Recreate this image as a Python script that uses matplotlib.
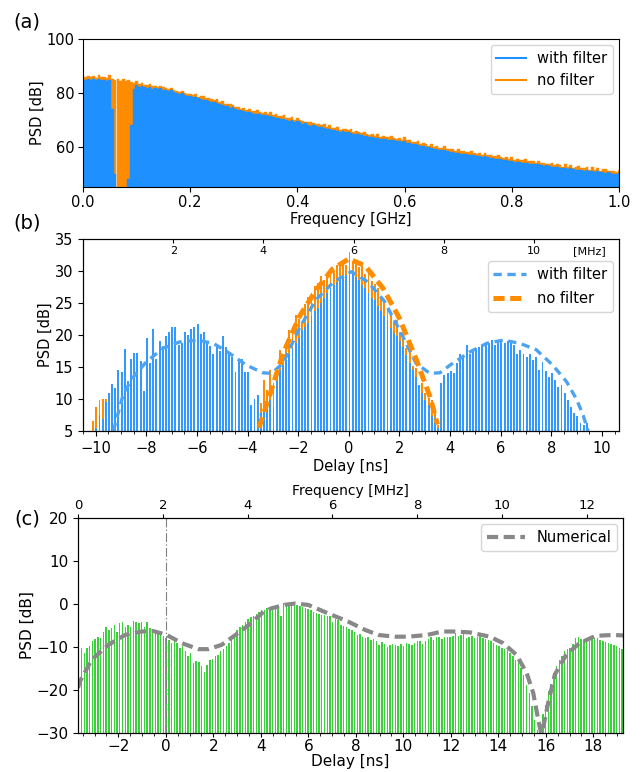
import numpy as np
import matplotlib
matplotlib.use('Agg')
import matplotlib.pyplot as plt
from matplotlib.lines import Line2D
from matplotlib.ticker import MultipleLocator

plt.rcParams['font.family'] = ['DejaVu Sans']
plt.rcParams['lines.scale_dashes'] = False

# ---------------- Panel (a): PSD vs frequency ----------------
freq_start_ghz = 0.0
freq_step_ghz = 0.005
psd_a_with = [
    84.6, 84.9, 85.2, 84.7, 85.0, 84.8, 85.1, 84.6, 84.9, 84.5,
    84.7, 74.0, 50.0, 40.0, 40.0, 40.0, 40.0, 48.0, 68.0, 81.5,
    82.8, 82.3, 82.6, 82.0, 81.9, 82.2, 81.6, 81.8, 81.4, 81.7,
    81.2, 81.0, 80.7, 80.9, 80.2, 80.0, 79.6, 79.8, 79.1, 78.9,
    78.8, 78.4, 78.5, 77.9, 77.8, 77.3, 77.5, 77.0, 76.6, 76.7,
    76.3, 75.8, 75.6, 75.2, 75.0, 74.5, 74.6, 74.0, 73.7, 73.5,
    73.2, 73.0, 72.8, 72.6, 72.3, 72.2, 72.0, 71.7, 71.9, 71.5,
    71.5, 71.0, 70.8, 70.6, 70.2, 70.3, 70.0, 69.7, 69.8, 69.3,
    69.4, 69.0, 68.5, 68.6, 68.2, 67.8, 67.9, 67.5, 67.2, 67.3,
    67.0, 66.6, 66.7, 66.2, 66.0, 65.9, 65.6, 65.7, 65.3, 65.4,
    65.2, 64.8, 64.6, 64.7, 64.2, 64.0, 63.9, 63.5, 63.6, 63.2,
    63.3, 62.9, 62.7, 62.8, 62.5, 62.3, 62.4, 62.0, 62.2, 61.8,
    62.1, 61.5, 61.2, 61.0, 60.8, 60.5, 60.3, 60.4, 59.9, 59.7,
    59.6, 59.2, 59.0, 58.9, 58.6, 58.7, 58.3, 58.1, 58.0, 57.7,
    57.8, 57.4, 57.2, 57.3, 57.0, 56.8, 56.9, 56.5, 56.6, 56.3,
    56.5, 56.0, 55.8, 55.9, 55.5, 55.3, 55.4, 55.0, 54.9, 54.7,
    54.7, 54.4, 54.2, 54.3, 54.0, 53.8, 53.9, 53.6, 53.7, 53.4,
    53.5, 53.1, 52.9, 53.0, 52.7, 52.6, 52.4, 52.5, 52.2, 52.0,
    52.2, 51.8, 51.9, 51.6, 51.5, 51.3, 51.4, 51.1, 51.2, 50.9,
    51.0, 50.7, 50.8, 50.5, 50.6, 50.3, 50.4, 50.1, 50.0, 49.9,
    50.1,
]
psd_a_without = [
    85.5, 86.0, 86.4, 85.8, 86.1, 85.6, 86.5, 85.7, 85.9, 85.4,
    86.8, 85.2, 84.6, 85.0, 84.4, 85.2, 84.5, 84.8, 84.2, 83.6,
    84.3, 83.2, 83.6, 82.9, 82.8, 83.3, 82.4, 82.6, 82.3, 82.5,
    82.0, 81.8, 81.5, 81.9, 81.0, 80.8, 80.4, 80.7, 80.1, 79.6,
    79.6, 79.2, 79.7, 78.5, 78.8, 78.8, 78.2, 77.9, 77.7, 77.3,
    77.6, 76.6, 76.8, 75.8, 76.0, 76.0, 75.3, 74.9, 74.8, 74.1,
    74.5, 73.8, 74.0, 73.2, 73.3, 73.7, 72.7, 72.6, 73.0, 72.1,
    72.8, 71.8, 72.0, 71.2, 71.2, 71.8, 70.7, 70.6, 70.9, 69.9,
    70.7, 69.8, 69.7, 69.2, 69.2, 69.3, 68.6, 68.4, 68.3, 67.9,
    68.3, 67.4, 67.9, 66.8, 67.0, 67.4, 66.3, 66.6, 66.4, 66.0,
    66.5, 65.6, 65.8, 65.3, 65.2, 65.5, 64.6, 64.4, 64.7, 63.8,
    64.6, 63.7, 63.9, 63.4, 63.5, 63.8, 63.1, 62.9, 63.3, 62.4,
    63.4, 62.3, 62.4, 61.6, 61.8, 62.0, 61.0, 61.3, 61.0, 60.3,
    60.9, 60.0, 60.2, 59.5, 59.6, 60.2, 59.0, 59.0, 59.1, 58.3,
    59.1, 58.2, 58.4, 57.9, 58.0, 58.3, 57.6, 57.4, 57.7, 56.9,
    57.8, 56.8, 57.0, 56.5, 56.5, 56.8, 56.1, 55.9, 56.0, 55.3,
    56.0, 55.2, 55.4, 54.9, 55.0, 55.3, 54.6, 54.5, 54.8, 54.0,
    54.8, 53.9, 54.1, 53.6, 53.7, 54.1, 53.1, 53.4, 53.3, 52.6,
    53.5, 52.6, 53.1, 52.2, 52.5, 52.8, 52.1, 52.0, 52.3, 51.5,
    52.3, 51.5, 52.0, 51.1, 51.6, 51.8, 51.1, 51.0, 51.1, 50.5,
    51.4,
]

# ---------------- Panel (b): PSD vs delay ----------------
delay_b_start = -10.1
delay_b_step = 0.125
psd_b_with = [
    3.0, 5.5, 7.5, 6.8, 9.5, 11.0, 12.3, 11.7, 14.6, 14.2,
    17.8, 12.8, 16.2, 17.2, 17.2, 15.9, 11.3, 19.6, 15.6, 20.9,
    16.2, 19.1, 18.3, 19.9, 20.4, 21.2, 21.2, 18.5, 18.8, 20.4,
    20.0, 20.9, 21.2, 21.7, 20.1, 20.4, 19.1, 18.3, 17.0, 18.5,
    17.5, 19.9, 18.1, 17.0, 16.5, 14.2, 16.2, 16.2, 14.2, 14.2,
    9.0, 10.0, 10.6, 7.8, 8.8, 9.1, 9.9, 8.8, 13.0, 14.5,
    15.3, 16.1, 17.1, 17.9, 18.7, 19.5, 20.8, 21.3, 21.8, 22.9,
    23.7, 24.2, 25.0, 25.8, 26.5, 27.3, 27.8, 28.3, 28.6, 29.0,
    29.3, 29.8, 29.5, 29.0, 28.6, 27.8, 27.3, 26.5, 25.8, 25.5,
    24.5, 23.7, 22.9, 22.4, 21.1, 20.3, 19.8, 19.0, 18.2, 16.9,
    15.6, 14.5, 13.5, 12.2, 10.9, 9.9, 9.1, 7.3, 7.0, 5.5,
    12.5, 13.7, 14.1, 14.3, 14.0, 15.6, 17.1, 16.4, 18.4, 17.1,
    17.4, 17.9, 18.2, 18.4, 18.7, 18.7, 19.2, 18.4, 19.2, 19.2,
    18.7, 19.0, 18.7, 18.4, 17.1, 17.6, 17.1, 16.6, 17.1, 16.1,
    16.6, 14.5, 15.8, 14.3, 13.5, 14.0, 13.0, 11.9, 12.2, 10.9,
    9.9, 8.8, 7.8, 7.3, 6.2, 6.0, 6.2,
]
nan = np.nan
psd_b_without = [
    6.5, 8.8, 9.8, 10.0, 10.0, nan, nan, nan, nan, nan,
    nan, nan, nan, nan, nan, nan, nan, nan, nan, nan,
    nan, nan, nan, nan, nan, nan, nan, nan, nan, nan,
    nan, nan, nan, nan, nan, nan, nan, nan, nan, nan,
    nan, nan, nan, nan, nan, nan, nan, nan, nan, nan,
    nan, nan, 6.0, 9.4, 13.0, 11.4, 14.5, 12.5, 14.8, 17.7,
    16.8, 18.7, 20.8, 20.5, 23.1, 22.5, 22.0, 24.9, 26.0, 26.5,
    27.6, 28.1, 29.2, 28.6, 29.5, 30.3, 30.0, 31.0, 30.6, 31.3,
    31.0, 33.0, 31.5, 31.2, 30.6, 30.8, 29.6, 29.8, 28.5, 28.0,
    27.3, 26.0, 25.6, 24.0, 23.5, 22.0, 22.3, 20.5, 19.8, 18.0,
    17.6, 15.2, 14.8, 12.0, 12.5, 11.0, 10.2, 9.8, 8.0, 6.0,
    nan, nan, nan, nan, nan, nan, nan, nan, nan, nan,
    nan, nan, nan, nan, nan, nan, nan, nan, nan, nan,
    nan, nan, nan, nan, nan, nan, nan, nan, nan, nan,
    nan, nan, nan, nan, nan, nan, nan, nan, nan, nan,
    nan, nan, nan, nan, nan, nan, nan,
]
fit_b_with_delay = [-9.3, -8.9, -8.5, -8.0, -7.35, -6.7, -6.0, -5.35, -4.7, -4.05,
                    -3.4, -3.05, -2.6, -1.95, -1.3, -0.6, 0.1, 0.75, 1.4, 2.0,
                    2.65, 3.2, 3.6, 4.0, 4.8, 5.45, 6.1, 6.75, 7.4, 8.05,
                    8.6, 9.0, 9.25, 9.45]
fit_b_with_psd = [5.0, 10.9, 13.5, 15.8, 17.9, 18.9, 19.2, 18.7, 17.1, 15.3,
                  14.1, 14.0, 15.6, 21.1, 25.5, 28.3, 29.9, 28.3, 25.3, 20.8,
                  15.6, 14.0, 14.1, 15.3, 17.4, 18.7, 19.2, 18.7, 17.7, 15.3,
                  12.7, 9.9, 7.5, 5.0]
fit_b_without_delay = [-3.55, -3.1, -2.6, -1.95, -1.3, -0.65, 0.0, 0.65, 1.35, 2.0,
                       2.65, 3.2, 3.5]
fit_b_without_psd = [5.5, 10.9, 17.1, 22.9, 27.0, 30.3, 31.9, 30.8, 27.3, 22.6,
                     16.3, 10.4, 6.0]
mhz_ticks_b = [2, 4, 6, 8, 10]

# ---------------- Panel (c): PSD vs delay ----------------
delay_c_first = -3.55
delay_c_last = 19.21
psd_c = [
    -10.3, -11.5, -10.3, -9.7, -8.7, -8.2, -7.7, -8.0, -6.4, -5.3,
    -6.0, -5.6, -4.9, -6.4, -4.5, -4.3, -5.3, -4.9, -5.3, -3.9,
    -4.3, -4.5, -4.3, -5.3, -4.2, -5.6, -6.2, -6.4, -6.3, -7.0,
    -7.4, -8.0, -8.3, -9.1, -8.3, -9.1, -10.3, -9.7, -10.9, -12.2,
    -11.3, -13.8, -13.2, -13.4, -14.5, -15.7, -14.1, -13.0, -12.8, -12.2,
    -11.8, -11.0, -10.5, -9.7, -9.1, -8.2, -7.0, -6.0, -5.3, -4.9,
    -4.1, -3.6, -3.1, -2.9, -2.3, -1.8,
    -1.5, -1.4, -1.0, -1.0, -0.85, -1.2, -1.0, -2.9, 0.15, 0.15,
    0.15, 0.0, 0.15, -0.2, -0.5, -0.6, -1.0, -1.2, -1.4, -1.8,
    -2.0, -2.3, -2.5, -2.5, -2.8, -2.9, -4.1, -3.6, -3.7, -4.9,
    -5.1, -5.4, -5.9, -6.0, -6.6, -7.2, -7.0, -7.7, -8.0, -7.7,
    -8.3, -8.2, -8.7, -9.5, -8.9, -9.3, -9.9, -9.5, -9.3, -9.5,
    -9.7, -9.3, -9.7, -9.1, -9.3, -9.5, -9.1, -8.7, -8.5, -9.3,
    -8.7, -8.2, -7.7, -8.3,
    -7.7, -7.7, -8.2, -7.6, -7.6, -7.7, -7.4, -6.8, -7.4, -7.2,
    -7.0, -8.0, -7.6, -7.4, -8.0, -7.7, -7.4, -8.0, -8.2, -8.3,
    -8.7, -9.1, -9.5, -9.7, -10.3, -10.5, -10.8, -11.4, -12.2, -13.0,
    -13.4, -14.9, -16.4, -18.8, -20.7, -23.8, -26.9, -29.2, -31.0, -25.5,
    -23.5, -20.3, -18.5, -16.0, -14.5, -13.0, -12.2, -11.0, -10.4, -10.2,
    -9.3, -7.8, -7.6, -8.2, -8.3, -8.0, -8.5, -8.2, -8.0, -8.0,
    -8.3, -8.5, -8.8, -9.0, -9.3, -9.5, -9.8, -10.2, -10.5,
]
num_c_delay = [-3.7, -3.62, -3.13, -2.42, -1.72, -1.02, -0.53, 0.04, 0.67, 1.37,
               1.79, 2.35, 2.93, 3.49, 4.12, 4.45, 5.0, 5.43, 5.99, 6.84,
               7.68, 8.38, 8.94, 9.64, 10.2, 11.0, 11.63, 12.1, 12.8, 13.64,
               14.2, 14.76, 15.19, 15.47, 15.68, 15.8, 15.9, 16.1, 16.38, 16.86,
               17.42, 18.1, 18.8, 19.25]
num_c_psd = [-19.5, -18.0, -13.0, -9.5, -7.2, -6.4, -6.3, -7.2, -9.1, -10.5,
             -10.5, -9.5, -7.2, -4.9, -1.8, -1.0, -0.2, 0.1, -0.2, -2.2,
             -4.1, -6.0, -7.2, -7.6, -7.6, -7.2, -6.4, -6.4, -6.6, -7.6,
             -9.1, -11.8, -16.0, -20.7, -26.9, -30.0, -28.4, -23.0, -16.4, -11.8,
             -9.1, -7.4, -7.2, -7.3]

# ---------------- Figure ----------------
fig = plt.figure(figsize=(6.43, 7.72), dpi=100)
W, H = 643.0, 772.0

def box(l, r, t, b):
    return [l / W, 1 - b / H, (r - l) / W, (b - t) / H]

BLUE = '#1E90FF'
ORANGE = '#FF8C00'
LBLUE = '#4DA3F0'
FS = 10.5

# ---- (a)
axa = fig.add_axes(box(83, 619, 39, 187))
fa = freq_start_ghz + freq_step_ghz * np.arange(len(psd_a_with))
axa.bar(fa, psd_a_without, width=freq_step_ghz, color=ORANGE, edgecolor=ORANGE, linewidth=0.3)
axa.bar(fa, psd_a_with, width=freq_step_ghz, color=BLUE, edgecolor=BLUE, linewidth=0.3)
axa.set_xlim(0, 1.0)
axa.set_ylim(45, 100)
axa.set_yticks([60, 80, 100])
axa.set_xticks([0.0, 0.2, 0.4, 0.6, 0.8, 1.0])
axa.tick_params(labelsize=FS, pad=2.5)
axa.set_xlabel('Frequency [GHz]', fontsize=FS, labelpad=1)
axa.set_ylabel('PSD [dB]', fontsize=FS, labelpad=1)
axa.legend(handles=[Line2D([], [], color=BLUE, lw=1.5, label='with filter'),
                    Line2D([], [], color=ORANGE, lw=1.5, label='no filter')],
           loc='upper right', fontsize=FS, handlelength=2.0, borderaxespad=0.4)

# ---- (b)
axb = fig.add_axes(box(83, 619, 239, 431))
db = delay_b_start + delay_b_step * np.arange(len(psd_b_with))
ob = np.array(psd_b_without, dtype=float)
mk = np.isfinite(ob)
axb.bar(db[mk], ob[mk], width=0.075, color=ORANGE, linewidth=0)
axb.bar(db, psd_b_with, width=0.075, color='#3399FF', linewidth=0)
lw1, = axb.plot(fit_b_with_delay, fit_b_with_psd, color=LBLUE, lw=2.4,
                dashes=(6, 4), label='with filter')
lw2, = axb.plot(fit_b_without_delay, fit_b_without_psd, color=ORANGE, lw=3.6,
                dashes=(8, 4), label='no filter')
axb.set_xlim(-10.5, 10.67)
axb.set_ylim(5, 35)
axb.set_xticks(range(-10, 11, 2))
axb.set_yticks(range(5, 36, 5))
axb.xaxis.set_minor_locator(MultipleLocator(0.5))
axb.tick_params(labelsize=FS)
axb.set_xlabel('Delay [ns]', fontsize=FS, labelpad=2)
axb.set_ylabel('PSD [dB]', fontsize=FS, labelpad=1)
axb.legend(handles=[lw1, lw2], loc='upper right', bbox_to_anchor=(1.0, 0.915),
           fontsize=FS, handlelength=2.2, borderaxespad=0.4, labelspacing=0.6)
axbt = axb.twiny()
axbt.set_xlim(0, 11.88)
axbt.set_xticks(mhz_ticks_b)
axbt.tick_params(axis='x', direction='in', pad=-12, labelsize=8, length=3)
axbt.text(0.975, 0.965, '[MHz]', transform=axbt.transAxes, ha='right', va='top',
          fontsize=8)

# ---- (c)
axc = fig.add_axes(box(78, 623, 518, 733))
dc = np.linspace(delay_c_first, delay_c_last, len(psd_c))
pc = np.array(psd_c)
axc.bar(dc, pc + 40, bottom=-40, width=0.06, color='#3BD03B', linewidth=0)
axc.axvline(0, color='gray', lw=0.8, ls='-.')
ln, = axc.plot(num_c_delay, num_c_psd, color='#888888', lw=3.0, dashes=(8, 4),
               label='Numerical')
axc.set_xlim(-3.7, 19.25)
axc.set_ylim(-30, 20)
axc.set_xticks(range(-2, 19, 2))
axc.set_yticks(range(-30, 21, 10))
axc.xaxis.set_minor_locator(MultipleLocator(0.5))
axc.tick_params(labelsize=11)
axc.tick_params(axis='x', pad=1.5, length=3)
axc.tick_params(axis='x', which='minor', length=2)
axc.set_xlabel('Delay [ns]', fontsize=11, labelpad=0)
axc.set_ylabel('PSD [dB]', fontsize=11, labelpad=1)
axc.legend(handles=[ln], loc='upper right', fontsize=FS, handlelength=2.6,
           borderaxespad=0.4)
axct = axc.twiny()
axct.set_xlim(0, 12.85)
axct.set_xticks(range(0, 13, 2))
axct.tick_params(labelsize=9.5, pad=1, length=3)
axct.set_xlabel('Frequency [MHz]', fontsize=10, labelpad=3)

fig.text(27 / W, 1 - 22 / H, '(a)', fontsize=14, ha='center', va='center')
fig.text(27 / W, 1 - 223 / H, '(b)', fontsize=14, ha='center', va='center')
fig.text(27 / W, 1 - 519 / H, '(c)', fontsize=14, ha='center', va='center')

fig.savefig('out.png', dpi=100)
